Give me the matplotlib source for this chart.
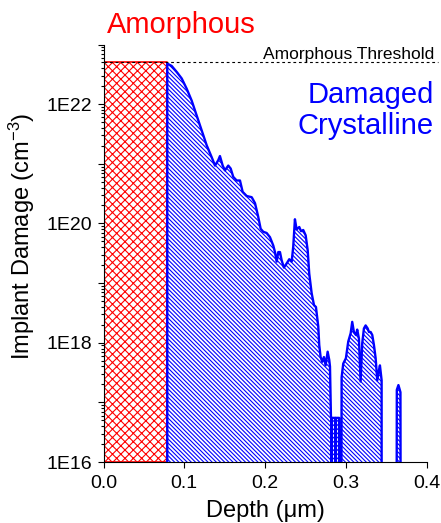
import matplotlib
matplotlib.use("Agg")
import matplotlib.pyplot as plt
import matplotlib.ticker as mticker
import numpy as np

plt.rcParams['font.family'] = ['Liberation Sans', 'DejaVu Sans']
plt.rcParams['mathtext.fontset'] = 'custom'
plt.rcParams['mathtext.rm'] = 'Liberation Sans'
plt.rcParams['mathtext.default'] = 'regular'
plt.rcParams['hatch.linewidth'] = 0.8

# Amorphous layer
amorphous_depth = 0.079      # um
amorphous_threshold = 5e22   # cm^-3

# Damage profile of the crystalline part (depth in um, log10 of damage in cm^-3)
# values of 10 stand for "no damage" (below the axis)
depth = [0.0789, 0.0789, 0.0844, 0.0906, 0.0968, 0.1029, 0.1091, 0.1153, 0.1215, 0.1277,
         0.1339, 0.1380, 0.1420, 0.1441, 0.1475, 0.1503, 0.1544, 0.1574, 0.1606, 0.1648,
         0.1689, 0.1722, 0.1772, 0.1834, 0.1875, 0.1896, 0.1915, 0.1945, 0.1977, 0.2019,
         0.2060, 0.2101, 0.2122, 0.2143, 0.2163, 0.2184, 0.2205, 0.2233, 0.2267, 0.2299,
         0.2329, 0.2348, 0.2369, 0.2390, 0.2423, 0.2444, 0.2472, 0.2502, 0.2527, 0.2546,
         0.2576, 0.2605, 0.2629, 0.2658, 0.2670, 0.2687, 0.2707, 0.2728, 0.2749, 0.2774,
         0.2794, 0.2803, 0.2815, 0.2822, 0.2824, 0.2826, 0.2868, 0.2871, 0.2874, 0.2916,
         0.2918, 0.2935, 0.2947, 0.2967, 0.3000, 0.3029, 0.3059, 0.3078, 0.3099, 0.3124,
         0.3140, 0.3161, 0.3182, 0.3202, 0.3223, 0.3244, 0.3269, 0.3285, 0.3306, 0.3326,
         0.3347, 0.3368, 0.3388, 0.3409, 0.3421, 0.3442, 0.3443, 0.3622, 0.3630, 0.3650,
         0.3675, 0.3683]
log_damage = [10, 22.68, 22.64, 22.54, 22.43, 22.26, 22.06, 21.81, 21.56, 21.31,
              21.11, 20.97, 21.06, 21.13, 20.97, 20.89, 20.97, 20.92, 20.78, 20.72,
              20.72, 20.53, 20.46, 20.44, 20.34, 20.22, 20.11, 19.91, 19.86, 19.84,
              19.77, 19.63, 19.52, 19.36, 19.52, 19.52, 19.38, 19.26, 19.33, 19.40,
              19.36, 19.61, 20.07, 19.90, 19.94, 19.87, 19.89, 19.80, 19.55, 19.16,
              18.83, 18.63, 18.60, 18.27, 17.96, 17.76, 17.68, 17.76, 17.62, 17.85,
              17.71, 17.60, 16.74, 16.74, 10, 16.74, 16.74, 10, 16.74, 16.74,
              10, 10, 17.42, 17.65, 17.74, 18.02, 18.16, 18.35, 18.18, 18.13,
              18.22, 18.07, 17.35, 17.99, 18.24, 18.29, 18.24, 18.18, 18.18, 18.13,
              17.96, 17.74, 17.37, 17.54, 17.62, 17.37, 10, 10, 17.21, 17.29,
              17.17, 10]

y_min, y_max = 1e16, 1e23
x_ticks = [0.0, 0.1, 0.2, 0.3, 0.4]

depth = np.array(depth)
damage = 10.0 ** np.array(log_damage)

fig = plt.figure(figsize=(4.41, 5.23), dpi=100)
ax = fig.add_axes([0.2347, 0.1166, 0.7329, 0.7983])
ax.set_yscale('log')

# amorphous box
ax.fill_between([0, amorphous_depth], y_min, amorphous_threshold, facecolor='none',
                edgecolor='red', hatch='xxxx', linewidth=1.2, zorder=2)

# damaged crystalline region
ax.fill_between(depth, y_min / 1e6, damage, facecolor='none', edgecolor='blue',
                hatch='\\' * 8, linewidth=0, zorder=3)
ax.plot(depth, damage, color='blue', lw=1.7, zorder=4)

# threshold line
ax.plot([0, 0.414], [amorphous_threshold, amorphous_threshold], color='black',
        lw=0.8, ls=(0, (2.5, 2.5)), clip_on=False, zorder=5)

ax.set_xlim(0, 0.4)
ax.set_ylim(y_min, y_max)

ax.set_xticks(x_ticks)
ax.xaxis.set_major_formatter(mticker.FormatStrFormatter('%.1f'))
ax.yaxis.set_major_locator(mticker.LogLocator(base=10, numticks=20))
ax.yaxis.set_minor_locator(mticker.LogLocator(base=10, subs=np.arange(2, 10), numticks=20))
ax.yaxis.set_major_formatter(mticker.FuncFormatter(
    lambda v, p: '1E%d' % round(np.log10(v)) if round(np.log10(v)) % 2 == 0 and v < 1e23 else ''))
ax.yaxis.set_minor_formatter(mticker.NullFormatter())

ax.tick_params(axis='both', which='major', direction='out', length=4.5, width=0.8,
               labelsize=14, pad=3.5)
ax.tick_params(axis='y', which='minor', direction='out', length=2.5, width=0.8)
ax.tick_params(axis='x', which='major', pad=4.5)

for s in ['top', 'right']:
    ax.spines[s].set_visible(False)
for s in ['left', 'bottom']:
    ax.spines[s].set_linewidth(0.8)

ax.set_xlabel('Depth (μm)', fontsize=17)
ax.set_ylabel('Implant Damage (cm$^{-3}$)', fontsize=17)
ax.xaxis.set_label_coords(0.5, -0.09)
ax.yaxis.set_label_coords(-0.205, 0.54)

ax.text(0.011, 1.0275, 'Amorphous', color='red', fontsize=21,
        transform=ax.transAxes, ha='left', va='baseline')
ax.text(1.0226, 0.9653, 'Amorphous Threshold', color='black', fontsize=12.5,
        transform=ax.transAxes, ha='right', va='baseline')
ax.text(1.0226, 0.860, 'Damaged', color='blue', fontsize=21,
        transform=ax.transAxes, ha='right', va='baseline')
ax.text(1.0226, 0.7856, 'Crystalline', color='blue', fontsize=21,
        transform=ax.transAxes, ha='right', va='baseline')

fig.savefig('out.png', dpi=100)
